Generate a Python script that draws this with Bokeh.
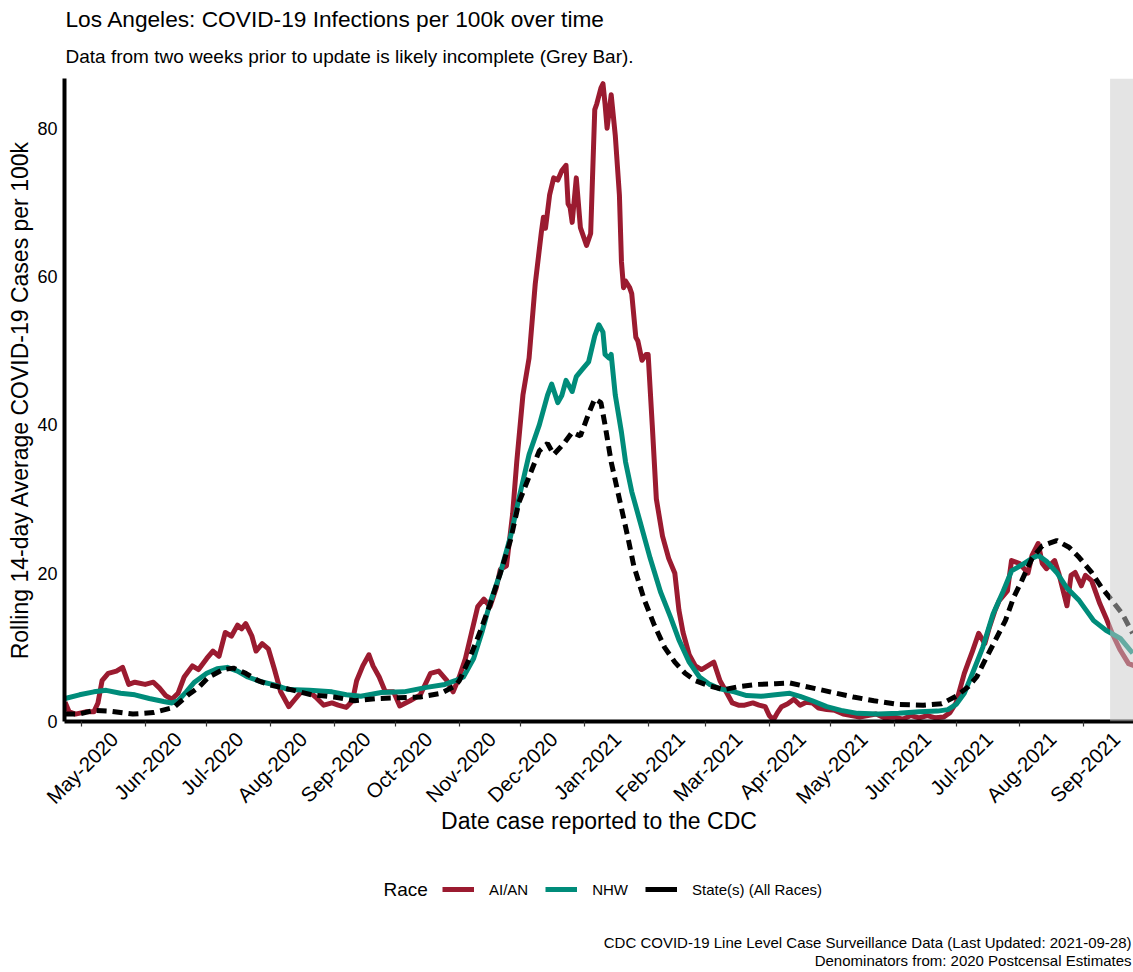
import pandas as pd
import math
from bokeh.plotting import figure
from bokeh.layouts import column
from bokeh.models import (Range1d, MonthsTicker, FixedTicker, DatetimeTickFormatter, DatetimeAxis,
                          Legend, LegendItem, BoxAnnotation, ColumnDataSource, Label,
                          CustomJSTickFormatter)
from bokeh.embed import file_html
from bokeh.resources import INLINE

# ---------------- data ----------------
aian_dates = ["2020-04-23","2020-04-25","2020-04-28","2020-05-03","2020-05-07","2020-05-09","2020-05-11","2020-05-14","2020-05-18","2020-05-21",
              "2020-05-24","2020-05-27","2020-06-01","2020-06-05","2020-06-08","2020-06-11","2020-06-14","2020-06-17","2020-06-20","2020-06-24",
              "2020-06-27","2020-07-01","2020-07-04","2020-07-07","2020-07-10","2020-07-13","2020-07-16","2020-07-18","2020-07-20","2020-07-23",
              "2020-07-25","2020-07-28","2020-07-31","2020-08-03","2020-08-06","2020-08-10","2020-08-13","2020-08-16","2020-08-20","2020-08-23",
              "2020-08-27","2020-08-31","2020-09-03","2020-09-07","2020-09-10","2020-09-12","2020-09-15","2020-09-18","2020-09-20","2020-09-23",
              "2020-09-26","2020-09-30","2020-10-03","2020-10-08","2020-10-13","2020-10-18","2020-10-22","2020-10-26","2020-10-29","2020-11-01",
              "2020-11-04","2020-11-07","2020-11-10","2020-11-13","2020-11-16","2020-11-19","2020-11-21","2020-11-24","2020-11-27","2020-11-29",
              "2020-12-02","2020-12-05","2020-12-08","2020-12-11","2020-12-12","2020-12-13","2020-12-15","2020-12-17","2020-12-19","2020-12-21",
              "2020-12-23","2020-12-24","2020-12-25","2020-12-26","2020-12-28","2020-12-30","2021-01-02","2021-01-04","2021-01-06","2021-01-07",
              "2021-01-09","2021-01-10","2021-01-11","2021-01-12","2021-01-14","2021-01-16","2021-01-18","2021-01-19","2021-01-20","2021-01-21",
              "2021-01-23","2021-01-24","2021-01-26","2021-01-27","2021-01-29","2021-01-31","2021-02-01","2021-02-03","2021-02-05","2021-02-08",
              "2021-02-11","2021-02-14","2021-02-16","2021-02-18","2021-02-21","2021-02-24","2021-02-27","2021-03-02","2021-03-05","2021-03-08",
              "2021-03-11","2021-03-14","2021-03-17","2021-03-20","2021-03-24","2021-03-27","2021-03-30","2021-04-01","2021-04-03","2021-04-05",
              "2021-04-07","2021-04-10","2021-04-13","2021-04-16","2021-04-19","2021-04-22","2021-04-25","2021-04-29","2021-05-03","2021-05-07",
              "2021-05-11","2021-05-15","2021-05-19","2021-05-23","2021-05-27","2021-06-01","2021-06-05","2021-06-09","2021-06-13","2021-06-17",
              "2021-06-21","2021-06-25","2021-06-28","2021-07-01","2021-07-03","2021-07-05","2021-07-07","2021-07-09","2021-07-12","2021-07-15",
              "2021-07-17","2021-07-20","2021-07-22","2021-07-26","2021-07-28","2021-08-01","2021-08-05","2021-08-07","2021-08-10","2021-08-12",
              "2021-08-14","2021-08-18","2021-08-20","2021-08-24","2021-08-26","2021-08-28","2021-08-31","2021-09-02","2021-09-05","2021-09-09",
              "2021-09-12","2021-09-15","2021-09-19","2021-09-23","2021-09-26"]
aian_values = [2.6, 1.3, 1.0, 1.3, 1.3, 2.5, 5.5, 6.5, 6.8, 7.3,
               5.0, 5.3, 5.0, 5.3, 4.5, 3.5, 3.0, 3.8, 6.0, 7.5,
               7.0, 8.5, 9.5, 8.8, 12.0, 11.5, 13.0, 12.5, 13.2, 11.5,
               9.5, 10.5, 9.8, 7.0, 4.0, 2.0, 3.0, 4.0, 4.0, 3.3,
               2.2, 2.5, 2.2, 1.9, 2.8, 5.5, 7.5, 9.0, 7.5, 6.0,
               4.0, 4.0, 2.1, 2.8, 3.6, 6.5, 6.8, 5.5, 4.0, 6.0,
               8.5, 12.0, 15.5, 16.5, 15.5, 18.0, 20.5, 21.0, 28.0, 35.0,
               44.0, 49.0, 59.0, 66.0, 68.0, 66.5, 71.0, 73.3, 73.0, 74.3,
               75.0, 69.8, 69.3, 67.3, 73.3, 66.6, 64.2, 65.8, 82.5, 83.3,
               85.4, 86.0, 83.3, 80.0, 84.5, 79.0, 71.0, 62.0, 58.5, 59.4,
               58.5, 57.7, 51.8, 51.3, 48.7, 49.5, 49.5, 40.0, 30.0, 25.0,
               22.0, 20.0, 15.0, 12.0, 9.0, 7.5, 7.0, 7.5, 8.0, 5.5,
               4.0, 2.5, 2.2, 2.2, 2.5, 2.2, 2.0, 0.8, 0.2, 1.2,
               2.0, 2.4, 3.0, 2.2, 2.6, 2.5, 1.8, 1.6, 1.5, 1.0,
               0.8, 0.6, 0.8, 1.0, 0.5, 0.6, 0.3, 0.8, 0.5, 0.8,
               0.5, 0.6, 1.2, 2.5, 4.5, 6.5, 8.0, 9.5, 11.9, 10.5,
               12.5, 15.0, 16.3, 17.6, 21.7, 21.3, 20.0, 22.4, 24.0, 21.3,
               20.6, 21.7, 20.0, 15.6, 19.7, 20.1, 18.3, 19.7, 19.0, 15.9,
               14.0, 11.9, 9.6, 7.8, 7.5]

nhw_dates = ["2020-04-23","2020-04-30","2020-05-07","2020-05-13","2020-05-20","2020-05-27","2020-06-03","2020-06-10","2020-06-14","2020-06-17",
             "2020-06-21","2020-06-25","2020-07-01","2020-07-06","2020-07-11","2020-07-16","2020-07-21","2020-07-27","2020-08-02","2020-08-10",
             "2020-08-20","2020-08-31","2020-09-07","2020-09-14","2020-09-24","2020-10-05","2020-10-16","2020-10-25","2020-10-30","2020-11-03",
             "2020-11-08","2020-11-12","2020-11-16","2020-11-21","2020-11-26","2020-11-30","2020-12-05","2020-12-10","2020-12-14","2020-12-16",
             "2020-12-19","2020-12-21","2020-12-23","2020-12-26","2020-12-28","2020-12-31","2021-01-03","2021-01-06","2021-01-08","2021-01-10",
             "2021-01-11","2021-01-13","2021-01-14","2021-01-16","2021-01-19","2021-01-21","2021-01-24","2021-01-28","2021-02-02","2021-02-07",
             "2021-02-12","2021-02-16","2021-02-21","2021-02-26","2021-03-03","2021-03-08","2021-03-15","2021-03-21","2021-03-28","2021-04-04",
             "2021-04-11","2021-04-16","2021-04-22","2021-04-29","2021-05-06","2021-05-14","2021-05-24","2021-06-03","2021-06-13","2021-06-22",
             "2021-06-27","2021-07-01","2021-07-05","2021-07-09","2021-07-14","2021-07-19","2021-07-24","2021-07-28","2021-08-03","2021-08-07",
             "2021-08-10","2021-08-14","2021-08-19","2021-08-24","2021-08-30","2021-09-06","2021-09-12","2021-09-19","2021-09-25"]
nhw_values = [3.1, 3.6, 4.0, 4.2, 3.8, 3.6, 3.1, 2.7, 2.5, 2.8,
              4.0, 5.3, 6.5, 7.1, 7.3, 6.8, 6.0, 5.4, 5.0, 4.3,
              4.2, 4.0, 3.6, 3.4, 3.9, 4.0, 4.6, 5.0, 5.5, 6.0,
              8.5, 12.0, 16.0, 20.0, 25.0, 30.0, 36.0, 40.0, 44.0, 45.5,
              43.0, 44.0, 46.0, 44.5, 46.5, 47.5, 48.5, 52.0, 53.5, 52.5,
              49.5, 49.0, 49.5, 44.0, 39.0, 35.0, 31.0, 27.0, 22.0, 17.5,
              14.0, 11.0, 8.0, 6.0, 5.0, 4.4, 4.0, 3.5, 3.4, 3.6,
              3.8, 3.4, 2.8, 2.0, 1.5, 1.1, 1.0, 1.1, 1.3, 1.4,
              1.6, 2.3, 3.8, 6.5, 10.0, 14.5, 17.6, 20.3, 21.3, 22.0,
              22.4, 21.6, 20.1, 18.0, 16.3, 13.6, 12.3, 11.2, 9.2]

state_dates = ["2020-04-23","2020-04-30","2020-05-07","2020-05-15","2020-05-26","2020-06-05","2020-06-15","2020-06-22","2020-06-27","2020-07-02",
               "2020-07-09","2020-07-14","2020-07-20","2020-07-26","2020-08-01","2020-08-11","2020-08-21","2020-09-01","2020-09-11","2020-09-22",
               "2020-10-02","2020-10-13","2020-10-23","2020-10-30","2020-11-01","2020-11-06","2020-11-11","2020-11-16","2020-11-21","2020-11-26",
               "2020-11-30","2020-12-05","2020-12-10","2020-12-14","2020-12-17","2020-12-22","2020-12-26","2020-12-30","2021-01-03","2021-01-06",
               "2021-01-09","2021-01-11","2021-01-14","2021-01-18","2021-01-22","2021-01-25","2021-01-30","2021-02-04","2021-02-09","2021-02-14",
               "2021-02-19","2021-02-24","2021-03-03","2021-03-10","2021-03-17","2021-03-26","2021-04-04","2021-04-11","2021-04-24","2021-05-12",
               "2021-05-22","2021-06-03","2021-06-15","2021-06-24","2021-07-01","2021-07-07","2021-07-11","2021-07-15","2021-07-20","2021-07-25",
               "2021-07-29","2021-08-02","2021-08-07","2021-08-12","2021-08-19","2021-08-25","2021-08-30","2021-09-05","2021-09-10","2021-09-15",
               "2021-09-20","2021-09-25"]
state_values = [1.0, 1.0, 1.5, 1.4, 1.0, 1.2, 1.9, 3.6, 4.6, 6.0,
                7.0, 7.2, 6.5, 5.5, 4.9, 4.3, 3.6, 3.3, 2.8, 3.1,
                3.2, 3.3, 3.8, 4.8, 5.5, 8.5, 12.0, 15.8, 20.0, 24.5,
                29.5, 33.0, 36.5, 37.5, 36.0, 37.5, 39.0, 38.5, 41.5, 43.5,
                43.0, 40.0, 35.0, 30.0, 25.0, 21.0, 16.5, 13.0, 10.0, 8.0,
                6.5, 5.5, 4.8, 4.3, 4.7, 5.0, 5.1, 5.2, 4.4, 3.3,
                2.8, 2.3, 2.2, 2.4, 3.4, 4.7, 6.0, 8.2, 10.9, 13.6,
                16.7, 19.0, 22.0, 23.7, 24.4, 23.5, 22.1, 20.1, 18.0, 16.3,
                14.5, 11.9]

series_labels = ["AI/AN", "NHW", "State(s) (All Races)"]
series_colors = ["#9B1B30", "#008C7A", "#000000"]
y_ticks = [0, 20, 40, 60, 80]
month_ticks = pd.date_range("2020-05-01", "2021-09-01", freq="MS")
last_updated = "2021-09-28"
incomplete_days = 14
x_start, x_end = "2020-04-22 17:00", "2021-09-25 10:00"
y_max = 86.7

title_text = "Los Angeles: COVID-19 Infections per 100k over time"
subtitle_text = "Data from two weeks prior to update is likely incomplete (Grey Bar)."
x_label = "Date case reported to the CDC"
y_label = "Rolling 14-day Average COVID-19 Cases per 100k"
legend_title = "Race"
footer_lines = ["CDC COVID-19 Line Level Case Surveillance Data (Last Updated: 2021-09-28)",
                "Denominators from: 2020 Postcensal Estimates"]

FONT = "Liberation Sans"
LABEL_SHIFT_DAYS = 16   # rotated month labels end to the right of their tick, as in the reference

W = 1133
LEFT = 64
HT = 70                 # title strip
HM = 856 - HT           # main chart
HB = 972 - HT - HM      # legend / footer strip


def text_strip(height):
    """A blank figure whose frame (aligned with the chart's frame) holds text and the legend."""
    f = figure(width=W, height=height, output_backend="svg", toolbar_location=None,
               x_range=Range1d(0, 1), y_range=Range1d(0, 1), min_border=0,
               x_axis_location=None, y_axis_location=None, title=None)
    f.outline_line_color = None
    for g in f.grid:
        g.visible = False
    return f


def add_text(f, x, y, text, size, align="left"):
    # x measured from the chart frame's left edge, y up from the strip bottom
    f.add_layout(Label(x=x, y=y, x_units="screen", y_units="screen", text=text,
                       text_font=FONT, text_font_size=size, text_baseline="middle",
                       text_align=align, text_color="#000000"))


# ---------------- title strip ----------------
pt = text_strip(HT)
add_text(pt, 65 - LEFT, HT - 18, title_text, "22.7px")
add_text(pt, 65 - LEFT, HT - 56, subtitle_text, "19px")

# ---------------- main figure ----------------
p = figure(width=W, height=HM, output_backend="svg", toolbar_location=None,
           x_axis_type="datetime", title=None,
           x_range=Range1d(pd.Timestamp(x_start), pd.Timestamp(x_end)),
           y_range=Range1d(0, y_max),
           min_border_left=LEFT, min_border_right=0, min_border_top=78 - HT,
           min_border_bottom=HT + HM - 721)
p.outline_line_color = None
p.xgrid.visible = False
p.ygrid.visible = False
p.background_fill_color = "white"

def src(d, v):
    return ColumnDataSource(dict(x=pd.to_datetime(d), y=v))

r_aian = p.line("x", "y", source=src(aian_dates, aian_values), line_color=series_colors[0],
                line_width=5, line_join="round")
r_nhw = p.line("x", "y", source=src(nhw_dates, nhw_values), line_color=series_colors[1],
               line_width=5, line_join="round")
r_state = p.line("x", "y", source=src(state_dates, state_values), line_color=series_colors[2],
                 line_width=5, line_dash="10 6")

grey_start = (pd.Timestamp(last_updated) - pd.Timedelta(days=incomplete_days)).value / 1e6
p.add_layout(BoxAnnotation(left=grey_start, fill_color="#c9c9c9", fill_alpha=0.5, line_alpha=0))

# x axis 1: line + tick marks at month starts
xa = p.xaxis[0]
xa.ticker = MonthsTicker(months=list(range(12)))
xa.formatter = CustomJSTickFormatter(code="return ''")
xa.major_label_text_font_size = "1px"
xa.major_label_standoff = 0
xa.major_tick_in = 0
xa.major_tick_out = 5
xa.major_tick_line_color = "#333333"
xa.major_tick_line_width = 1.2
xa.minor_tick_out = 0
xa.minor_tick_in = 0
xa.axis_line_width = 4
xa.axis_line_color = "black"

# x axis 2: rotated month labels + axis title
fmt = "%b-%Y"
xb = DatetimeAxis(ticker=FixedTicker(ticks=[(m + pd.Timedelta(days=LABEL_SHIFT_DAYS)).value / 1e6 for m in month_ticks]),
                  formatter=DatetimeTickFormatter(days=fmt, months=fmt, years=fmt, hours=fmt))
xb.axis_line_color = None
xb.major_tick_in = 0
xb.major_tick_out = 0
xb.minor_tick_in = 0
xb.minor_tick_out = 0
xb.major_label_orientation = math.pi / 4
xb.major_label_text_font = FONT
xb.major_label_text_font_size = "20.5px"
xb.major_label_text_color = "#000000"
xb.major_label_standoff = 9
xb.axis_label = x_label
xb.axis_label_text_font = FONT
xb.axis_label_text_font_size = "23px"
xb.axis_label_text_font_style = "normal"
xb.axis_label_text_color = "#000000"
xb.axis_label_standoff = -11
p.add_layout(xb, "below")

ya = p.yaxis[0]
ya.ticker = y_ticks
ya.major_label_text_font = FONT
ya.major_label_text_font_size = "18px"
ya.major_label_text_color = "#000000"
ya.major_tick_in = 0
ya.major_tick_out = 0
ya.minor_tick_in = 0
ya.minor_tick_out = 0
ya.major_label_standoff = 7
ya.axis_line_width = 4
ya.axis_line_color = "black"
ya.axis_label = y_label
ya.axis_label_text_font = FONT
ya.axis_label_text_font_size = "23px"
ya.axis_label_text_font_style = "normal"
ya.axis_label_text_color = "#000000"
ya.axis_label_standoff = 1

# ---------------- legend + footer strip ----------------
pb = text_strip(HB)
# legend keys: invisible stand-ins lying outside the strip's ranges
key_x, key_y = [2, 3], [2, 2]
k_aian = pb.line(x=key_x, y=key_y, line_color=series_colors[0], line_width=5)
k_nhw = pb.line(x=key_x, y=key_y, line_color=series_colors[1], line_width=5)
k_state = pb.line(x=key_x, y=key_y, line_color=series_colors[2], line_width=5)

legend_mid = HB - 33
add_text(pb, 383 - LEFT, legend_mid, legend_title, "19px")
legend = Legend(items=[LegendItem(label=series_labels[0], renderers=[k_aian]),
                       LegendItem(label=series_labels[1], renderers=[k_nhw]),
                       LegendItem(label=series_labels[2], renderers=[k_state])],
                location=(442 - LEFT, legend_mid - 10), orientation="horizontal",
                label_text_font=FONT, label_text_font_size="15px", label_text_color="#000000",
                glyph_width=32, glyph_height=20, label_height=20, label_standoff=15,
                spacing=17, padding=0, margin=0,
                border_line_alpha=0, background_fill_alpha=0)
pb.add_layout(legend, "center")

for i, line in enumerate(footer_lines):
    add_text(pb, W - 2 - LEFT, HB - 86 - 18 * i, line, "15px", align="right")

open("out.html", "w").write(file_html(column(pt, p, pb, spacing=0), INLINE))
